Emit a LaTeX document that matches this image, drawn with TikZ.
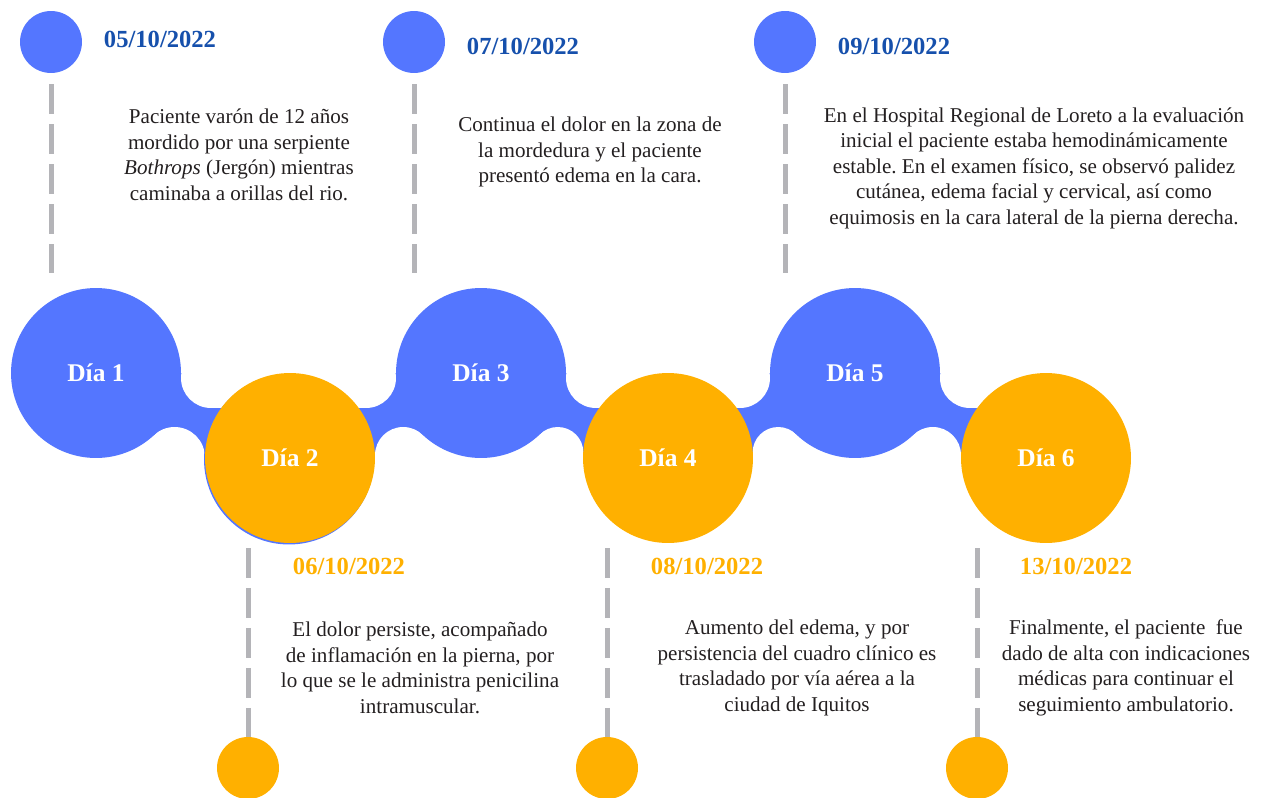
\documentclass[tikz,border=0pt]{standalone}
\usepackage{fontspec}
\setmainfont{Liberation Serif}
\frenchspacing
\definecolor{dayblue}{RGB}{84,118,255}
\definecolor{dayorange}{RGB}{255,176,0}
\definecolor{dateblue}{RGB}{22,80,172}
\definecolor{guide}{RGB}{180,180,184}
\definecolor{ink}{RGB}{35,31,32}
\begin{document}
\begin{tikzpicture}[x=0.02cm,y=-0.02cm,
    day/.style={circle,minimum size=3.4cm,inner sep=0pt,text=white,font=\bfseries\fontsize{14.5}{17}\selectfont},
    dot/.style={circle,minimum size=1.24cm,inner sep=0pt},
    fecha/.style={font=\bfseries\fontsize{14}{17}\selectfont},
    nota/.style={align=center,text=ink,font=\fontsize{12}{14.5}\selectfont},
    guia/.style={line width=0.1cm,draw=guide,dash pattern=on 0.6cm off 0.2cm}]
  \useasboundingbox (0,0) rectangle (1263,797);
  \clip (0,0) rectangle (1263,797);

  % band between the days, with its fillets
  \fill[dayblue] (96,408) rectangle (1046,427)
    (96,373) rectangle (211,408) (366,373) rectangle (481,408)
    (481,373) rectangle (596,408) (740,373) rectangle (855,408)
    (855,373) rectangle (970,408)
    (153.9,427) rectangle (290,457.3) (290,427) rectangle (422.6,455.2)
    (540,427) rectangle (668,452.6) (668,427) rectangle (796,452.6)
    (913.4,427) rectangle (1046,455.2);
  \fill[white] (211,378) circle[radius=0.6cm] (366,378) circle[radius=0.6cm]
    (596,378) circle[radius=0.6cm] (740,378) circle[radius=0.6cm]
    (970,378) circle[radius=0.6cm]
    (174.6,457.3) circle[radius=0.606cm] (403.2,455.2) circle[radius=0.564cm]
    (557.8,452.6) circle[radius=0.512cm] (778.2,452.6) circle[radius=0.512cm]
    (932.8,455.2) circle[radius=0.564cm];
  \fill[dayblue] (289,459.5) circle[radius=1.7cm];

  \node[day,fill=dayblue] (d1) at (96,373) {Día 1};
  \node[day,fill=dayorange] (d2) at (290,458) {Día 2};
  \node[day,fill=dayblue] (d3) at (481,373) {Día 3};
  \node[day,fill=dayorange] (d4) at (668,458) {Día 4};
  \node[day,fill=dayblue] (d5) at (855,373) {Día 5};
  \node[day,fill=dayorange] (d6) at (1046,458) {Día 6};

  % upper entries
  \node[dot,fill=dayblue] (p1) at (51,42) {};
  \node[dot,fill=dayblue] (p3) at (414,42) {};
  \node[dot,fill=dayblue] (p5) at (785,42) {};
  \coordinate (e1) at (51,273);
  \coordinate (e3) at (414,273);
  \coordinate (e5) at (785,273);
  \draw[guia,shorten <=0.22cm] (p1) -- (e1);
  \draw[guia,shorten <=0.22cm] (p3) -- (e3);
  \draw[guia,shorten <=0.22cm] (p5) -- (e5);

  \node[fecha,text=dateblue] (f1) at (160,39) {05/10/2022};
  \node[fecha,text=dateblue] (f3) at (523,46) {07/10/2022};
  \node[fecha,text=dateblue] (f5) at (894,46) {09/10/2022};

  \node[nota] (n1) at (239,155) {Paciente varón de 12 años\\mordido por una serpiente\\\textit{Bothrops} (Jergón) mientras\\caminaba a orillas del rio.};
  \node[nota] (n3) at (590,152) {Continua el dolor en la zona de\\la mordedura y el paciente\\presentó edema en la cara.};
  \node[nota] (n5) at (1034,168) {En el Hospital Regional de Loreto a la evaluación\\inicial el paciente estaba hemodinámicamente\\estable. En el examen físico, se observó palidez\\cutánea, edema facial y cervical, así como\\equimosis en la cara lateral de la pierna derecha.};

  % lower entries
  \node[dot,fill=dayorange] (q2) at (248,768) {};
  \node[dot,fill=dayorange] (q4) at (607,768) {};
  \node[dot,fill=dayorange] (q6) at (977,768) {};
  \coordinate (b2) at (248,548);
  \coordinate (b4) at (607,548);
  \coordinate (b6) at (977,548);
  \draw[guia] (b2) -- (q2);
  \draw[guia] (b4) -- (q4);
  \draw[guia] (b6) -- (q6);

  \node[fecha,text=dayorange] (f2) at (349,566) {06/10/2022};
  \node[fecha,text=dayorange] (f4) at (707,566) {08/10/2022};
  \node[fecha,text=dayorange] (f6) at (1076,566) {13/10/2022};

  \node[nota] (n2) at (420,668) {El dolor persiste, acompañado\\de inflamación en la pierna, por\\lo que se le administra penicilina\\intramuscular.};
  \node[nota] (n4) at (797,668) {Aumento del edema, y por\\persistencia del cuadro clínico es\\trasladado por vía aérea a la\\ciudad de Iquitos};
  \node[nota] (n6) at (1126,668) {Finalmente, el paciente~ fue\\dado de alta con indicaciones\\médicas para continuar el\\seguimiento ambulatorio.};
\end{tikzpicture}
\end{document}
